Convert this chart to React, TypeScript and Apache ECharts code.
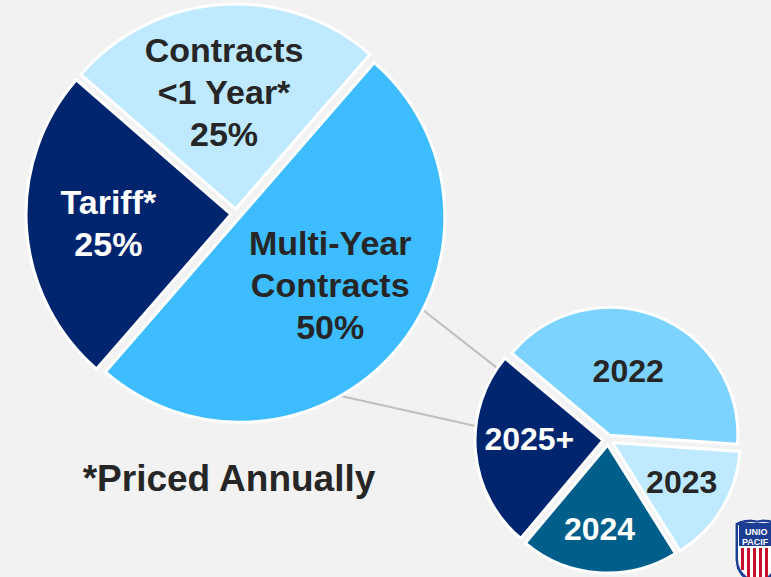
import { useEffect, useRef } from 'react';
import * as echarts from 'echarts';

// ---- data ----
const mixCategories = ['Multi-Year\nContracts', 'Tariff*', 'Contracts\n<1 Year*'];
const mixShares = [50, 25, 25];
const expiryYears = ['2022', '2023', '2024', '2025+'];
const expiryShares = [40, 15, 20, 25];
const footnote = '*Priced Annually';
const logoLines = ['UNIO', 'PACIF'];

// ---- styles / layout ----
const mixColors = ['#3DBDFF', '#00256F', '#BEE9FF'];
const mixText = ['#262626', '#ffffff', '#262626'];
const expiryColors = ['#7DD3FF', '#BEE9FF', '#005E8A', '#00256F'];
const expiryText = ['#262626', '#262626', '#ffffff', '#ffffff'];

const BIG = {
  cx: 236, cy: 214, r: 205, start: 49,
  labelK: [0.56, 0.59, 0.58],
  nudge: [[0, -11], [3, 0], [-3, 7]],
};
const SMALL = {
  cx: 608, cy: 440, r: 128, start: 140,
  labelK: [0.51, 0.63, 0.65, 0.57],
  nudge: [[-8, 1], [-4, -5], [-2, -4], [4, -8]],
};
const OFFSET = 5;
const CONNECT = { big: [-27, -61], small: [147, 174] };
const FONT = '"Liberation Sans", Arial, sans-serif';

let registered = false;
function registerShapes() {
  if (registered) return;
  registered = true;
  echarts.graphic.registerShape(
    'upShield',
    echarts.graphic.extendPath('M0 5 Q11 -1 22 2 Q33 -1 44 5 L44 42 Q44 60 22 68 Q0 60 0 42 Z', {}) as any
  );
}

function pt(c: { cx: number; cy: number }, ang: number, rr: number) {
  const a = (ang * Math.PI) / 180;
  return [c.cx + Math.cos(a) * rr, c.cy - Math.sin(a) * rr];
}

function pieSeries(
  cfg: typeof BIG,
  names: string[],
  values: number[],
  colors: string[],
  textColors: string[],
  fontSize: number,
  lineHeight: number,
  showValue: boolean
) {
  return {
    type: 'pie',
    center: [cfg.cx, cfg.cy],
    radius: cfg.r,
    startAngle: cfg.start,
    clockwise: true,
    selectedMode: 'multiple',
    selectedOffset: OFFSET,
    avoidLabelOverlap: false,
    emphasis: { disabled: true },
    labelLine: { show: false },
    itemStyle: { borderColor: '#ffffff', borderWidth: 3 },
    select: { itemStyle: { borderColor: '#ffffff', borderWidth: 3 } },
    label: {
      show: true,
      position: 'inside',
      fontFamily: FONT,
      fontWeight: 'bold',
      fontSize,
      lineHeight,
      formatter: showValue ? '{b}\n{c}%' : '{b}',
    },
    labelLayout: (p: any) => {
      const rect = p.labelRect;
      const lx = rect.x + rect.width / 2;
      const ly = rect.y + rect.height / 2;
      const vx = lx - cfg.cx;
      const vy = ly - cfg.cy;
      const d0 = Math.hypot(vx, vy) || 1;
      const d1 = cfg.labelK[p.dataIndex] * cfg.r + OFFSET;
      const s = d1 / d0 - 1;
      const n = cfg.nudge[p.dataIndex] || [0, 0];
      return { dx: vx * s + n[0], dy: vy * s + n[1] };
    },
    data: names.map((n, i) => ({
      name: n,
      value: values[i],
      selected: true,
      itemStyle: { color: colors[i] },
      label: { color: textColors[i] },
      select: { itemStyle: { color: colors[i] }, label: { color: textColors[i] } },
    })),
  };
}

export default function App() {
  const ref = useRef<HTMLDivElement>(null);
  useEffect(() => {
    registerShapes();
    const chart = echarts.init(ref.current!, null, { renderer: 'svg' });

    const lines = CONNECT.big.map((a, i) => {
      const p1 = pt(BIG, a, BIG.r + 2);
      const p2 = pt(SMALL, CONNECT.small[i], SMALL.r + 4);
      return {
        type: 'line',
        z: 0,
        shape: { x1: p1[0], y1: p1[1], x2: p2[0], y2: p2[1] },
        style: { stroke: '#BFBFBF', lineWidth: 2 },
      };
    });

    const stripes: any[] = [];
    for (let i = 0; i < 6; i++) {
      stripes.push({
        type: 'rect',
        z: 12,
        shape: { x: 741 + i * 6, y: 548, width: 3, height: i === 0 ? 22 : 32 },
        style: { fill: '#C8102E' },
      });
    }

    chart.setOption({
      animation: false,
      backgroundColor: '#F2F2F2',
      series: [
        pieSeries(BIG, mixCategories, mixShares, mixColors, mixText, 34, 42, true),
        pieSeries(SMALL, expiryYears, expiryShares, expiryColors, expiryText, 32, 36, false),
      ],
      graphic: {
        elements: [
          ...lines,
          {
            type: 'text',
            z: 10,
            x: 229,
            y: 478,
            style: {
              text: footnote,
              font: `bold 37px ${FONT}`,
              fill: '#262626',
              align: 'center',
              verticalAlign: 'middle',
              textAlign: 'center',
              textVerticalAlign: 'middle',
            },
          },
          {
            type: 'upShield',
            z: 10,
            x: 735,
            y: 518,
            style: { fill: '#1B3D93', stroke: '#ffffff', lineWidth: 1 },
          },
          {
            type: 'upShield',
            z: 11,
            x: 738,
            y: 521,
            scaleX: 0.86,
            scaleY: 0.9,
            style: { fill: '#ffffff' },
          },
          {
            type: 'rect',
            z: 12,
            shape: { x: 739, y: 523, width: 40, height: 23 },
            style: { fill: '#1B3D93' },
          },
          ...stripes,
          {
            type: 'text',
            z: 13,
            x: 745,
            y: 532,
            style: { text: logoLines[0], font: `bold 9px ${FONT}`, fill: '#ffffff', verticalAlign: 'middle', textVerticalAlign: 'middle' },
          },
          {
            type: 'text',
            z: 13,
            x: 742,
            y: 542,
            style: { text: logoLines[1], font: `bold 9px ${FONT}`, fill: '#ffffff', verticalAlign: 'middle', textVerticalAlign: 'middle' },
          },
        ],
      },
    });
    return () => chart.dispose();
  }, []);
  return <div ref={ref} style={{ position: 'fixed', left: 0, top: 0, width: 771, height: 577 }} />;
}
